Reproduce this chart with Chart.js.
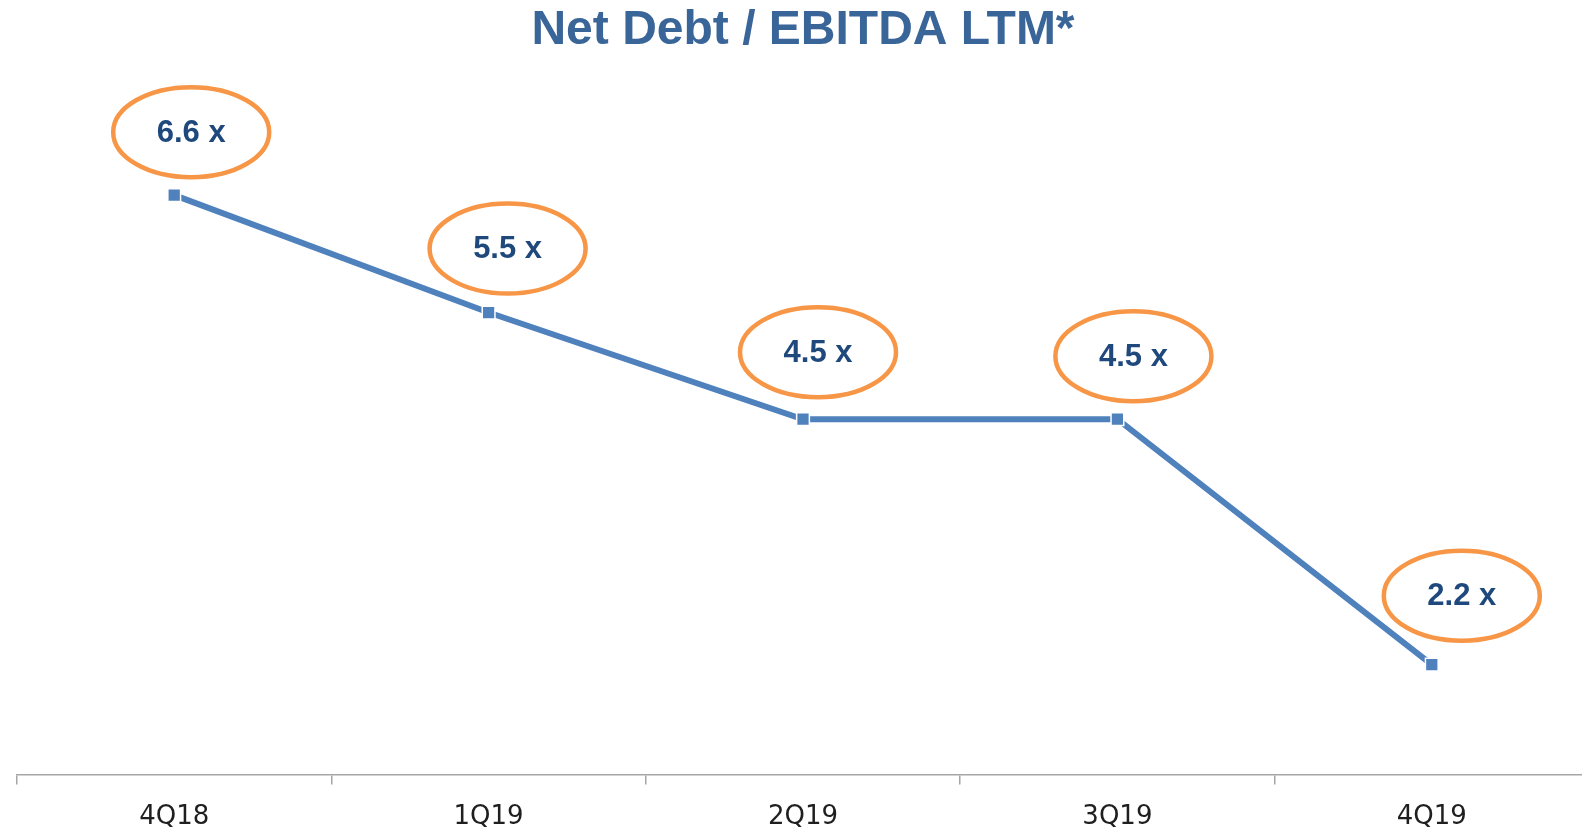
<!DOCTYPE html>
<html>
<head>
<meta charset="utf-8">
<title>Net Debt / EBITDA LTM*</title>
<script src="https://cdn.jsdelivr.net/npm/chart.js@4"></script>
<style>
  html, body { margin: 0; padding: 0; background: #fff; overflow: hidden; }
  #chart { position: absolute; left: 0; top: 0; }
</style>
</head>
<body>
<canvas id="chart" width="1600" height="852"></canvas>
<script>
// data
const quarters = ["4Q18", "1Q19", "2Q19", "3Q19", "4Q19"];
const netDebtEbitda = [6.6, 5.5, 4.5, 4.5, 2.2];
const labelTexts = ["6.6 x", "5.5 x", "4.5 x", "4.5 x", "2.2 x"];

// ellipse labels above each point
const ellipseLabels = {
  id: "ellipseLabels",
  afterDatasetsDraw(chart, args, opts) {
    const ctx = chart.ctx;
    const meta = chart.getDatasetMeta(0);
    ctx.save();
    meta.data.forEach((pt, i) => {
      const off = opts.offsets[i];
      const cx = pt.x + off[0];
      const cy = pt.y + off[1];
      ctx.beginPath();
      ctx.ellipse(cx, cy, 78, 45, 0, 0, Math.PI * 2);
      ctx.fillStyle = "#fff";
      ctx.fill();
      ctx.lineWidth = 4.5;
      ctx.strokeStyle = "#f79646";
      ctx.stroke();
      ctx.fillStyle = "#1f497d";
      ctx.font = "bold 31px 'Liberation Sans', Arial, sans-serif";
      ctx.textAlign = "center";
      ctx.textBaseline = "middle";
      ctx.fillText(labelTexts[i], cx, cy + 1);
    });
    ctx.restore();
  },
};

new Chart(document.getElementById("chart"), {
  type: "line",
  data: {
    labels: quarters,
    datasets: [
      {
        label: "Net Debt / EBITDA",
        data: netDebtEbitda,
        borderColor: "#4f81bd",
        borderWidth: 6,
        tension: 0,
        pointStyle: "rect",
        pointRadius: 9,
        pointBackgroundColor: "#4f81bd",
        pointBorderColor: "#fff",
        pointBorderWidth: 1.5,
      },
    ],
  },
  options: {
    responsive: false,
    animation: false,
    layout: { padding: { left: 17, right: 11, top: 2, bottom: 1.4 } },
    scales: {
      x: {
        offset: true,
        grid: {
          offset: true,
          drawOnChartArea: false,
          drawTicks: true,
          tickLength: 10,
          color: "#a6a6a6",
          lineWidth: 1.5,
        },
        border: { display: true, color: "#a6a6a6", width: 1.5 },
        ticks: {
          padding: 17.4,
          color: "#1f1f1f",
          font: { family: "'DejaVu Sans', Tahoma, sans-serif", size: 26 },
        },
      },
      y: { display: false, min: 1.17, max: 7.87 },
    },
    plugins: {
      legend: { display: false },
      tooltip: { enabled: false },
      title: {
        display: true,
        text: "Net Debt / EBITDA LTM*",
        color: "#3a6599",
        font: { family: "'Liberation Sans', Arial, sans-serif", size: 48, weight: "bold" },
        padding: { top: 0, bottom: 0 },
      },
      ellipseLabels: {
        offsets: [[17, -63], [19, -64], [15, -67], [16, -63], [30, -69]],
      },
    },
  },
  plugins: [ellipseLabels],
});
</script>
</body>
</html>
